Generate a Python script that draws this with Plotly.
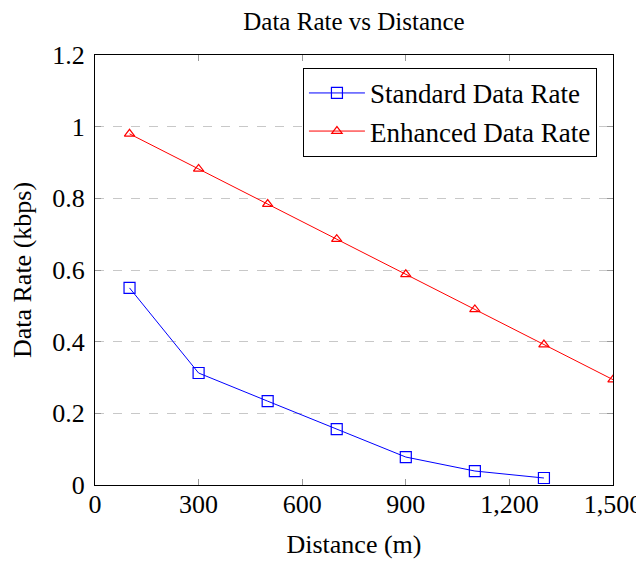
import plotly.graph_objects as go

# distances (m)
dist_standard = [100, 300, 500, 700, 900, 1100, 1300]
dist_enhanced = [100, 300, 500, 700, 900, 1100, 1300, 1500]

# data rate (kbps)
rate_standard = [0.55, 0.3125, 0.234, 0.156, 0.078, 0.039, 0.0195]
rate_enhanced = [0.98, 0.882, 0.784, 0.686, 0.588, 0.49, 0.392, 0.294]

x_ticks = [0, 300, 600, 900, 1200, 1500]
y_ticks = [0, 0.2, 0.4, 0.6, 0.8, 1, 1.2]

serif = "Liberation Serif, Times New Roman, serif"

fig = go.Figure()

fig.add_trace(go.Scatter(
    x=dist_standard, y=rate_standard,
    mode="lines+markers",
    line=dict(color="blue", width=1),
    marker=dict(symbol="square-open", size=11, color="blue", line=dict(width=1.2)),
    name="Standard Data Rate"
))

fig.add_trace(go.Scatter(
    x=dist_enhanced, y=rate_enhanced,
    mode="lines+markers",
    line=dict(color="red", width=1),
    marker=dict(symbol="triangle-up-open", size=9, color="red", line=dict(width=1.2)),
    name="Enhanced Data Rate"
))

# page body adds ~8px margin, so the figure is a bit smaller than the window
fig.update_layout(
    width=636, height=553,
    margin=dict(l=87, r=31, t=47, b=76),
    paper_bgcolor="white",
    plot_bgcolor="white",
    font=dict(family=serif, size=26, color="black"),
    title=dict(text="Data Rate vs Distance", x=0.5, xref="paper", xanchor="center",
               y=0.9765, yanchor="middle", font=dict(size=25)),
    legend=dict(x=0.969, y=0.97, xanchor="right", yanchor="top",
                bordercolor="black", borderwidth=1, bgcolor="white",
                font=dict(size=27), itemwidth=56, tracegroupgap=0),
    showlegend=True,
)

fig.update_xaxes(
    range=[0, 1500], tickvals=x_ticks, tickformat=",",
    title_text="Distance (m)", title_font=dict(size=26), title_standoff=16,
    automargin=False, ticklabeloverflow="allow", ticklabelstandoff=-4,
    showgrid=False, zeroline=False,
    showline=True, linecolor="black", linewidth=1, mirror="ticks",
    ticks="inside", ticklen=6, tickcolor="#999999",
)

fig.update_yaxes(
    range=[0, 1.2], tickvals=y_ticks,
    title_text="Data Rate (kbps)", title_font=dict(size=26), title_standoff=17,
    automargin=False, ticklabelstandoff=4,
    showgrid=True, gridcolor="#c8c8c8", griddash="dash", gridwidth=1,
    zeroline=False,
    showline=True, linecolor="black", linewidth=1, mirror="ticks",
    ticks="inside", ticklen=6, tickcolor="#999999",
)

fig.write_html("out.html")
